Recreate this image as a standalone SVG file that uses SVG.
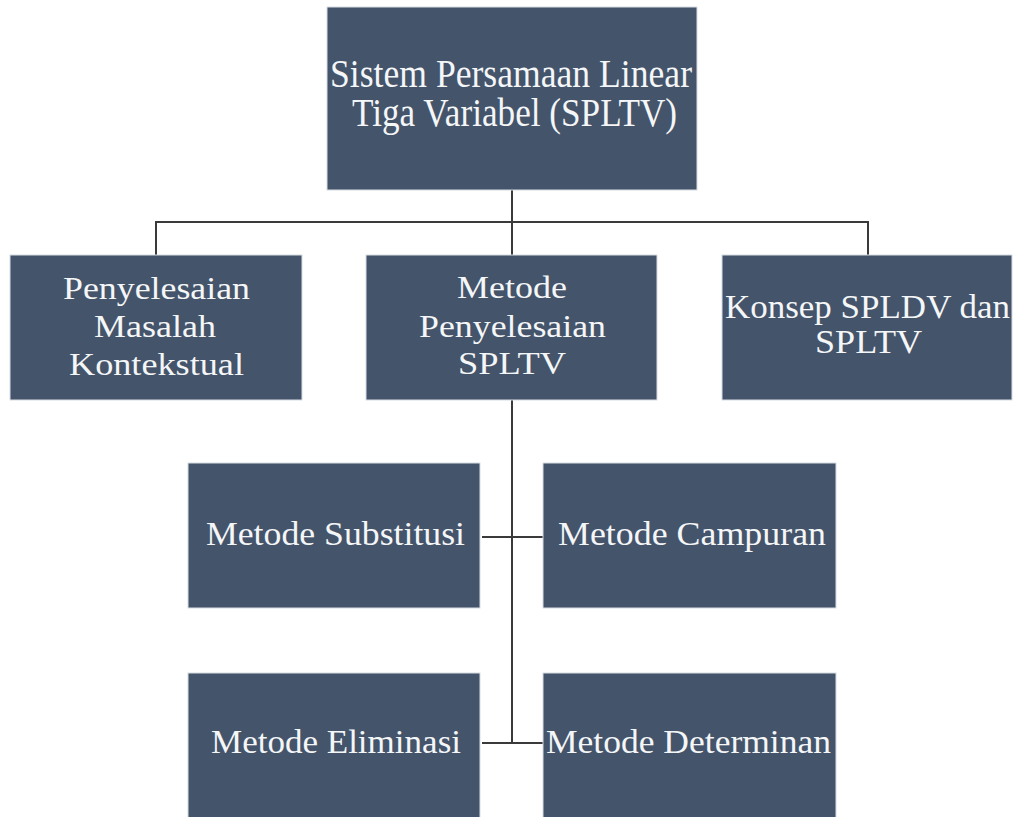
<svg xmlns="http://www.w3.org/2000/svg" width="1020" height="817" viewBox="0 0 1020 817">
<style>
.box{fill:#44546A;stroke:#d8dde3;stroke-width:1}
.t{font-family:"Liberation Serif","Times New Roman",serif;fill:#f4f6f8}
.a{font-size:39px}
.b{font-size:32px}
.c{font-size:34px}
.ln{stroke:#3a3a3a;stroke-width:2;fill:none}
</style>
<rect width="1020" height="817" fill="#ffffff"/>
<g id="connectors">
<path class="ln" d="M512,190 V255 M156,255 V222 H868 V255 M512,400 V743 M482,537 H543 M482,743 H543"/>
</g>
<g id="n-root"><rect class="box" x="327" y="7" width="370" height="183"/>
<text class="t a" x="330" y="87" textLength="362" lengthAdjust="spacingAndGlyphs">Sistem Persamaan Linear</text>
<text class="t a" x="352" y="126" textLength="325" lengthAdjust="spacingAndGlyphs">Tiga Variabel (SPLTV)</text></g>
<g id="n-kontekstual"><rect class="box" x="10" y="255" width="292" height="145"/>
<text class="t b" x="63" y="299" textLength="187" lengthAdjust="spacingAndGlyphs">Penyelesaian</text>
<text class="t b" x="94" y="337" textLength="122" lengthAdjust="spacingAndGlyphs">Masalah</text>
<text class="t b" x="69" y="375" textLength="175" lengthAdjust="spacingAndGlyphs">Kontekstual</text></g>
<g id="n-metode"><rect class="box" x="366" y="255" width="291" height="145"/>
<text class="t b" x="457" y="298" textLength="110" lengthAdjust="spacingAndGlyphs">Metode</text>
<text class="t b" x="419" y="337" textLength="187" lengthAdjust="spacingAndGlyphs">Penyelesaian</text>
<text class="t b" x="458" y="374" textLength="108" lengthAdjust="spacingAndGlyphs">SPLTV</text></g>
<g id="n-konsep"><rect class="box" x="722" y="255" width="290" height="145"/>
<text class="t c" x="725" y="318" textLength="285" lengthAdjust="spacingAndGlyphs">Konsep SPLDV dan</text>
<text class="t c" x="815" y="353" textLength="107" lengthAdjust="spacingAndGlyphs">SPLTV</text></g>
<g id="n-substitusi"><rect class="box" x="188" y="463" width="292" height="145"/>
<text class="t c" x="206" y="545" textLength="259" lengthAdjust="spacingAndGlyphs">Metode Substitusi</text></g>
<g id="n-campuran"><rect class="box" x="543" y="463" width="293" height="145"/>
<text class="t c" x="558" y="545" textLength="268" lengthAdjust="spacingAndGlyphs">Metode Campuran</text></g>
<g id="n-eliminasi"><rect class="box" x="188" y="673" width="292" height="145"/>
<text class="t c" x="211" y="753" textLength="250" lengthAdjust="spacingAndGlyphs">Metode Eliminasi</text></g>
<g id="n-determinan"><rect class="box" x="543" y="673" width="293" height="145"/>
<text class="t c" x="546" y="753" textLength="285" lengthAdjust="spacingAndGlyphs">Metode Determinan</text></g>
</svg>
